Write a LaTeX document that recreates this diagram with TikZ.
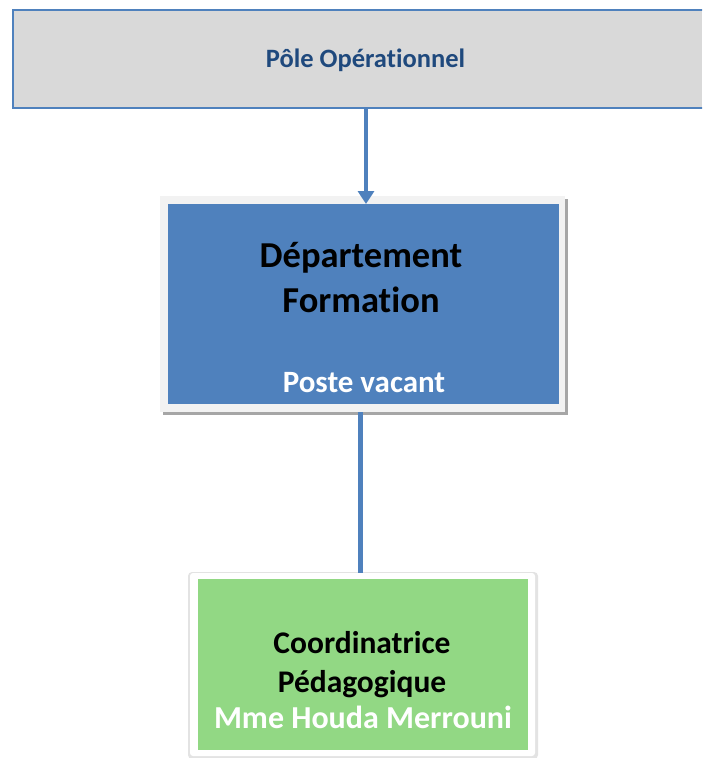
\documentclass[tikz,border=0pt]{standalone}
\usepackage{fontspec}
\setmainfont{Carlito}[Ligatures=NoCommon]
\usetikzlibrary{arrows.meta}
\definecolor{cblue}{HTML}{4F81BD}
\definecolor{cgray}{HTML}{D9D9D9}
\definecolor{cdark}{HTML}{1F497D}
\definecolor{cgreen}{HTML}{92D884}
\definecolor{cframe}{HTML}{F2F2F2}
\definecolor{cshadow}{HTML}{A6A6A6}
\tikzset{
  plain/.style={inner sep=0pt, outer sep=0pt},
  boxrect/.style={plain, rectangle, anchor=north west},
  txt/.style={plain, anchor=base, font=\bfseries},
}
\begin{document}
\begin{tikzpicture}[x=1pt,y=-1pt]
\useasboundingbox (0,0) rectangle (702,758);
\clip (0,0) rectangle (702,758);
\fill[white] (0,0) rectangle (702,758);
% top box (runs off the right edge)
\node[boxrect, fill=cgray, minimum width=689pt, minimum height=98pt] (pole) at (13,10) {};
\draw[cblue, line width=2.5pt] ([xshift=10pt]pole.north east) -- (pole.north west) -- (pole.south west) -- ([xshift=10pt]pole.south east);
\node[txt, text=cdark, font=\bfseries\fontsize{26.5}{30}\selectfont] (poletxt) at (365.5,67) {Pôle Opérationnel};
% department box
\node[boxrect, fill=cshadow, minimum width=405pt, minimum height=216pt] (deptshadow) at (163,199) {};
\node[boxrect, fill=cframe, minimum width=405pt, minimum height=216pt] (deptframe) at (160,196) {};
\node[boxrect, fill=cblue, minimum width=391pt, minimum height=200pt] (dept) at (168,204) {};
\node[txt, text=black, font=\bfseries\fontsize{36.5}{42}\selectfont] (d1) at (361,267) {Département};
\node[txt, text=black, font=\bfseries\fontsize{36.5}{42}\selectfont] (d2) at (361,312) {Formation};
\node[txt, text=white, font=\bfseries\fontsize{31}{36}\selectfont] (d3) at (364,392) {Poste vacant};
% green box
\node[boxrect, fill=gray!22, rounded corners=4pt, minimum width=350pt, minimum height=187pt] (greenshadow) at (188,572) {};
\node[boxrect, fill=white, rounded corners=3pt, minimum width=345pt, minimum height=183pt] (greenframe) at (190,573) {};
\node[boxrect, fill=cgreen, minimum width=330pt, minimum height=171pt] (green) at (198,579) {};
\node[txt, text=black, font=\bfseries\fontsize{31.5}{36}\selectfont] (g1) at (362,653) {Coordinatrice};
\node[txt, text=black, font=\bfseries\fontsize{31.5}{36}\selectfont] (g2) at (362,692) {Pédagogique};
\node[txt, text=white, font=\bfseries\fontsize{32}{36}\selectfont] (g3) at (363,728) {Mme Houda Merrouni};
% connectors
\coordinate (ax) at (366,0);
\coordinate (bx) at (360,0);
\draw[cblue, line width=3.5pt, -{Triangle[length=13pt,width=16pt]}] (pole.south -| ax) -- (dept.north -| ax);
\draw[cblue, line width=5pt] (deptframe.south -| bx) -- (greenframe.north -| bx);
\end{tikzpicture}
\end{document}
